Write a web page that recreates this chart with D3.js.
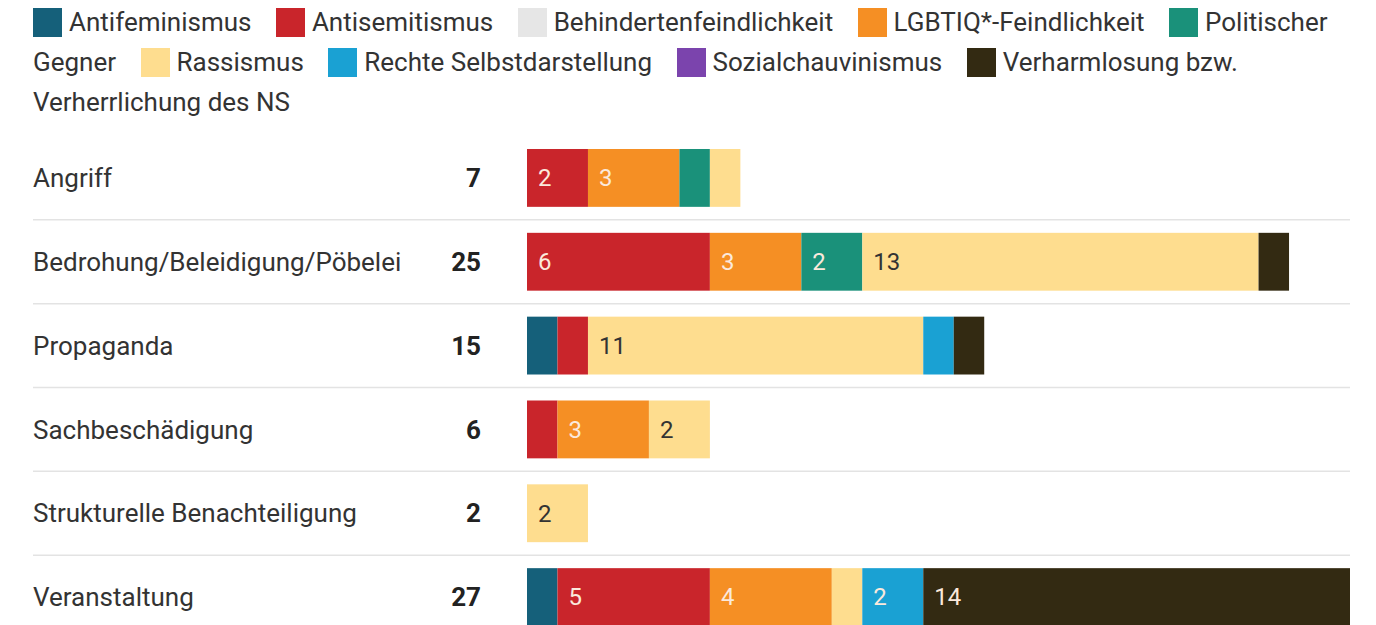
<!DOCTYPE html>
<html>
<head>
<meta charset="utf-8">
<script src="https://cdn.jsdelivr.net/npm/d3@7"></script>
<style>
	body { margin: 0; background: #fff; font-family: Roboto, sans-serif; color: #333; }
	#legend { position: absolute; left: 33px; top: 2px; width: 1320px; font-size: 26px; line-height: 40px; }
	#legend .item { margin-right: 18px; }
	#legend .swatch { display: inline-block; width: 29px; height: 29px; vertical-align: -6px; margin-right: 7px; }
	svg { position: absolute; left: 0; top: 0; }
</style>
</head>
<body>
<div id="legend"></div>
<svg id="chart" width="1376" height="625"></svg>
<script>
const Width = 1376;
const Height = 625;

const categories = ["Angriff", "Bedrohung/Beleidigung/Pöbelei", "Propaganda", "Sachbeschädigung", "Strukturelle Benachteiligung", "Veranstaltung"];
const seriesNames = ["Antifeminismus", "Antisemitismus", "Behindertenfeindlichkeit", "LGBTIQ*-Feindlichkeit", "Politischer Gegner", "Rassismus", "Rechte Selbstdarstellung", "Sozialchauvinismus", "Verharmlosung bzw. Verherrlichung des NS"];
const seriesColors = ["#15607a", "#c9252b", "#e6e6e6", "#f58f24", "#1a917a", "#fedd8f", "#1aa1d3", "#7b44ad", "#332a12"];
const darkSeries = [true, true, false, true, true, false, true, true, true];

const antifeminismus = [0, 0, 1, 0, 0, 1];
const antisemitismus = [2, 6, 1, 1, 0, 5];
const behindertenfeindlichkeit = [0, 0, 0, 0, 0, 0];
const lgbtiq = [3, 3, 0, 3, 0, 4];
const politischerGegner = [1, 2, 0, 0, 0, 0];
const rassismus = [1, 13, 11, 2, 2, 1];
const rechteSelbstdarstellung = [0, 0, 1, 0, 0, 2];
const sozialchauvinismus = [0, 0, 0, 0, 0, 0];
const verharmlosung = [0, 1, 1, 0, 0, 14];
const totals = [7, 25, 15, 6, 2, 27];

const seriesValues = [antifeminismus, antisemitismus, behindertenfeindlichkeit, lgbtiq, politischerGegner, rassismus, rechteSelbstdarstellung, sozialchauvinismus, verharmlosung];

// table for d3.stack: one row per category, one column per series
const table = categories.map((c, i) => {
	const row = { name: c, total: totals[i] };
	seriesNames.forEach((s, j) => row[s] = seriesValues[j][i]);
	return row;
});

// legend as html so labels wrap like flowing text
const legend = d3.select("#legend");
seriesNames.forEach((s, j) => {
	const item = legend.append("span").attr("class", "item");
	item.append("span").attr("class", "swatch").style("background", seriesColors[j]);
	item.append("span").text(s);
	legend.append("span").text(" ");
});

const chart = d3.select("#chart");

const y = d3.scaleBand().domain(categories).range([136, 639]).paddingInner(0.31).paddingOuter(0.155);
const x = d3.scaleLinear().domain([0, 27]).range([527, 1350]);

// separators between rows
chart.append("g").selectAll("line").data(categories.slice(1)).enter().append("line")
	.attr("x1", 33).attr("x2", 1350)
	.attr("y1", d => y(d) - y.step() * y.paddingInner() / 2)
	.attr("y2", d => y(d) - y.step() * y.paddingInner() / 2)
	.attr("stroke", "#e3e3e3").attr("stroke-width", 1.5);

// row labels and totals
const rows = chart.append("g").selectAll("g").data(table).enter().append("g")
	.attr("transform", d => `translate(0,${y(d.name) + y.bandwidth() / 2})`);
rows.append("text").attr("x", 33).attr("dy", "0.35em").attr("font-size", 26).attr("fill", "#333").text(d => d.name);
rows.append("text").attr("x", 481).attr("dy", "0.35em").attr("font-size", 26).attr("font-weight", "bold").attr("text-anchor", "end").attr("fill", "#222").text(d => d.total);

// stacked segments
const stacked = d3.stack().keys(seriesNames)(table);
const layers = chart.append("g").selectAll("g").data(stacked).enter().append("g")
	.attr("fill", (d, i) => seriesColors[i]);
layers.selectAll("rect").data(d => d.filter(p => p[1] > p[0])).enter().append("rect")
	.attr("x", d => x(d[0]))
	.attr("y", d => y(d.data.name))
	.attr("width", d => x(d[1]) - x(d[0]))
	.attr("height", y.bandwidth());

// value labels inside segments (only where there is room)
const labels = chart.append("g");
stacked.forEach((layer, i) => {
	labels.selectAll(null).data(layer.filter(p => p[1] - p[0] >= 2)).enter().append("text")
		.attr("x", d => x(d[0]) + 11)
		.attr("y", d => y(d.data.name) + y.bandwidth() / 2)
		.attr("dy", "0.35em")
		.attr("font-size", 24)
		.attr("fill", darkSeries[i] ? "#fbe9dc" : "#333")
		.text(d => d[1] - d[0]);
});
</script>
</body>
</html>
